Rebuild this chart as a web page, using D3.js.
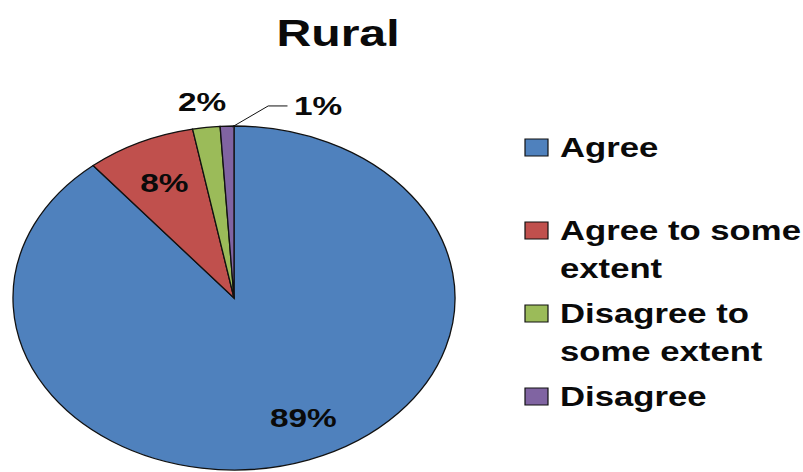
<!DOCTYPE html>
<html>
<head>
<meta charset="utf-8">
<script src="https://cdn.jsdelivr.net/npm/d3@7"></script>
<style>
  html, body { margin: 0; padding: 0; background: #fff; }
  svg { display: block; }
  text { font-family: "Liberation Sans", Arial, sans-serif; font-weight: bold; fill: #0a0a0a; }
</style>
</head>
<body>
<svg id="chart" width="803" height="472"></svg>
<script>
// Survey responses, rural respondents (percent)
const title = "Rural";
const categories = ["Agree", "Agree to some extent", "Disagree to some extent", "Disagree"];
const values = [89, 8, 2, 1];
const legendLines = [["Agree"], ["Agree to some", "extent"], ["Disagree to", "some extent"], ["Disagree"]];
const colors = ["#4F81BD", "#C0504D", "#9BBB59", "#8064A2"];

const W = 803, H = 472;
const sx = 1.285;             // horizontal stretch of the whole drawing
const cx = 234 / sx, cy = 298, R = 172;

const svg = d3.select("#chart");
const g = svg.append("g").attr("transform", `scale(${sx},1)`);

// title
g.append("text")
  .attr("x", 338 / sx).attr("y", 46)
  .attr("text-anchor", "middle")
  .style("font-size", "37.5px")
  .text(title);

const pie = d3.pie().sort(null).value(d => d)(values);
const arc = d3.arc().innerRadius(0).outerRadius(R);

const pieG = g.append("g").attr("transform", `translate(${cx},${cy})`);
pieG.selectAll("path.slice")
  .data(pie)
  .join("path")
  .attr("class", "slice")
  .attr("d", arc)
  .attr("fill", (d, i) => colors[i])
  .attr("stroke", "#111")
  .attr("stroke-width", 1.3)
  .attr("vector-effect", "non-scaling-stroke");

const fmt = v => v + "%";
const inside = d3.arc().innerRadius(R * 0.74).outerRadius(R * 0.74);
const outside = d3.arc().innerRadius(R * 1.15).outerRadius(R * 1.15);
const edge = d3.arc().innerRadius(R * 0.995).outerRadius(R * 0.995);

pie.forEach((d, i) => {
  const lab = pieG.append("text")
    .attr("text-anchor", "middle")
    .attr("dy", "0.35em")
    .style("font-size", "26px")
    .text(fmt(values[i]));
  if (values[i] >= 5) {
    const [x, y] = inside.centroid(d);
    // the large slice's label sits a little right of its mid-angle
    const nudge = values[i] > 50 ? 14 / sx : 0;
    lab.attr("x", x + nudge).attr("y", y);
  } else if (i === 2) {
    const [x, y] = outside.centroid(d);
    lab.attr("x", x).attr("y", y);
  } else {
    // smallest slice: label to the upper right with an elbow leader
    const [x0, y0] = edge.centroid(d);
    const ex = x0 + 32, ey = y0 - 21, lx = ex + 15;
    pieG.append("polyline")
      .attr("points", `${x0 + 4},${y0} ${ex},${ey} ${lx},${ey}`)
      .attr("fill", "none")
      .attr("stroke", "#111")
      .attr("stroke-width", 1)
      .attr("vector-effect", "non-scaling-stroke");
    lab.attr("text-anchor", "start").attr("x", lx + 5).attr("y", ey);
  }
});

// legend
const legend = g.append("g").attr("transform", `translate(${525 / sx},157)`);
const rows = legend.selectAll("g.row")
  .data(categories)
  .join("g")
  .attr("class", "row")
  .attr("transform", (d, i) => `translate(0,${i * 83})`);

rows.append("rect")
  .attr("x", 0).attr("y", -18)
  .attr("width", 23 / sx).attr("height", 17)
  .attr("fill", (d, i) => colors[i])
  .attr("stroke", "#111")
  .attr("stroke-width", 1.2)
  .attr("vector-effect", "non-scaling-stroke");

rows.each(function (d, i) {
  const t = d3.select(this).append("text")
    .attr("x", 35 / sx).attr("y", 0)
    .style("font-size", "27px");
  legendLines[i].forEach((line, j) => {
    t.append("tspan").attr("x", 35 / sx).attr("dy", j === 0 ? 0 : 38).text(line);
  });
});
</script>
</body>
</html>
